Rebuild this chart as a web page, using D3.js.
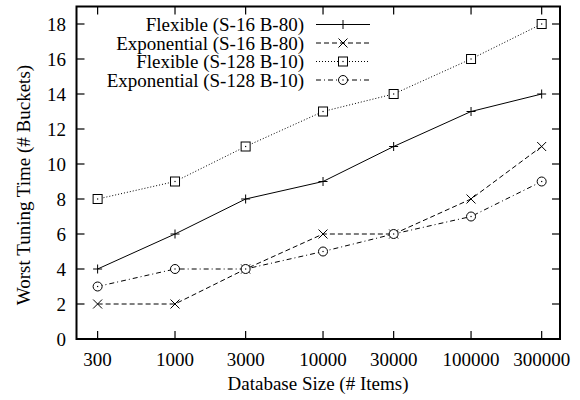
<!DOCTYPE html>
<html lang="en">
<head>
<meta charset="UTF-8">
<title>Worst Tuning Time</title>
<style>
  body { margin: 0; background: #fff; }
  svg { display: block; }
  text { font-family: "Liberation Serif", "Times New Roman", serif; font-size: 19px; fill: #000; }
  .axis path, .axis line { stroke: #000; }
</style>
</head>
<body>
<svg width="580" height="400"></svg>
<script src="https://d3js.org/d3.v7.min.js"></script>
<script>
// data
var sizes = [300, 1000, 3000, 10000, 30000, 100000, 300000];
var flexS16 = [4, 6, 8, 9, 11, 13, 14];
var expoS16 = [2, 2, 4, 6, 6, 8, 11];
var flexS128 = [8, 9, 11, 13, 14, 16, 18];
var expoS128 = [3, 4, 4, 5, 6, 7, 9];
var yTicks = [0, 2, 4, 6, 8, 10, 12, 14, 16, 18];

var series = [
  {name: "Flexible (S-16 B-80)", values: flexS16, dash: null, mark: "plus"},
  {name: "Exponential (S-16 B-80)", values: expoS16, dash: "5,3", mark: "cross"},
  {name: "Flexible (S-128 B-10)", values: flexS128, dash: "1,2", mark: "square"},
  {name: "Exponential (S-128 B-10)", values: expoS128, dash: "5,3,1,3", mark: "circle"}
];

var svg = d3.select("svg");
var plotL = 76.5, plotR = 560, plotT = 6.5, plotB = 339;

var x = d3.scaleLog().domain([216, 399000]).range([plotL, plotR]);
var y = d3.scaleLinear().domain([0, 19]).range([plotB, plotT]);

// ticks, mirrored on all four sides, pointing inwards
var tickLen = 8;
var g = svg.append("g").attr("class", "axis");
sizes.forEach(function(s) {
  g.append("line").attr("x1", x(s)).attr("x2", x(s)).attr("y1", plotB).attr("y2", plotB - tickLen);
  g.append("line").attr("x1", x(s)).attr("x2", x(s)).attr("y1", plotT).attr("y2", plotT + tickLen);
  svg.append("text").attr("x", x(s)).attr("y", 366).attr("text-anchor", "middle").text(s);
});
yTicks.forEach(function(t) {
  g.append("line").attr("x1", plotL).attr("x2", plotL + tickLen).attr("y1", y(t)).attr("y2", y(t));
  g.append("line").attr("x1", plotR).attr("x2", plotR - tickLen).attr("y1", y(t)).attr("y2", y(t));
  svg.append("text").attr("x", 66).attr("y", y(t)).attr("dy", "0.35em").attr("text-anchor", "end").text(t);
});
g.selectAll("line").attr("stroke-width", 1.2);

// frame
svg.append("rect")
  .attr("x", plotL).attr("y", plotT)
  .attr("width", plotR - plotL).attr("height", plotB - plotT)
  .attr("fill", "none").attr("stroke", "#000").attr("stroke-width", 2);

// axis titles
svg.append("text").attr("x", 318).attr("y", 390).attr("text-anchor", "middle")
  .text("Database Size (# Items)");
svg.append("text").attr("transform", "translate(30,185) rotate(-90)").attr("text-anchor", "middle")
  .text("Worst Tuning Time (# Buckets)");

function drawMark(sel, kind, cx, cy) {
  var r = 4.5;
  if (kind === "plus") {
    sel.append("path").attr("d", "M" + (cx - r) + "," + cy + "H" + (cx + r) + "M" + cx + "," + (cy - r) + "V" + (cy + r));
  } else if (kind === "cross") {
    sel.append("path").attr("d", "M" + (cx - r) + "," + (cy - r) + "L" + (cx + r) + "," + (cy + r) +
      "M" + (cx - r) + "," + (cy + r) + "L" + (cx + r) + "," + (cy - r));
  } else if (kind === "square") {
    sel.append("rect").attr("x", cx - r).attr("y", cy - r).attr("width", 2 * r).attr("height", 2 * r).attr("fill", "#fff");
    sel.append("rect").attr("x", cx - 0.6).attr("y", cy - 0.6).attr("width", 1.2).attr("height", 1.2).attr("fill", "#000").attr("stroke", "none");
  } else {
    sel.append("circle").attr("cx", cx).attr("cy", cy).attr("r", r).attr("fill", "#fff");
    sel.append("rect").attr("x", cx - 0.6).attr("y", cy - 0.6).attr("width", 1.2).attr("height", 1.2).attr("fill", "#000").attr("stroke", "none");
  }
}

var line = d3.line().x(function(d) { return x(d[0]); }).y(function(d) { return y(d[1]); });

series.forEach(function(s, i) {
  var pts = sizes.map(function(v, j) { return [v, s.values[j]]; });
  var sg = svg.append("g").attr("fill", "none").attr("stroke", "#000").attr("stroke-width", 1);
  sg.append("path").attr("d", line(pts)).attr("stroke-dasharray", s.dash);
  pts.forEach(function(p) { drawMark(sg, s.mark, x(p[0]), y(p[1])); });

  // legend row
  var ly = 24.5 + i * 18.5;
  svg.append("text").attr("x", 304).attr("y", ly).attr("dy", "0.35em").attr("text-anchor", "end").text(s.name);
  var lg = svg.append("g").attr("fill", "none").attr("stroke", "#000").attr("stroke-width", 1);
  lg.append("line").attr("x1", 316).attr("x2", 370).attr("y1", ly).attr("y2", ly).attr("stroke-dasharray", s.dash);
  drawMark(lg, s.mark, 343, ly);
});
</script>
</body>
</html>
